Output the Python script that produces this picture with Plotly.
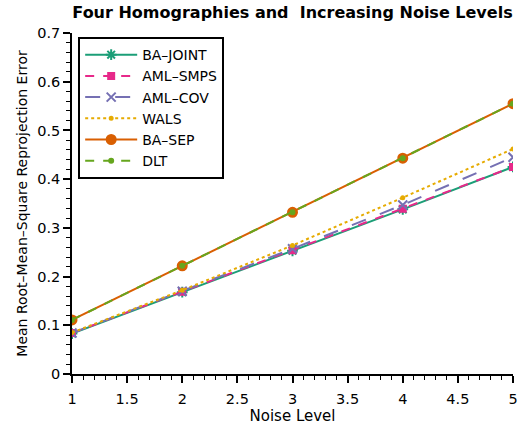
import plotly.graph_objects as go

noise = [1, 2, 3, 4, 5]
ba_joint = [0.083, 0.168, 0.253, 0.338, 0.425]
aml_smps = [0.084, 0.169, 0.254, 0.339, 0.425]
aml_cov = [0.084, 0.170, 0.257, 0.347, 0.445]
wals = [0.085, 0.172, 0.264, 0.362, 0.462]
ba_sep = [0.111, 0.222, 0.332, 0.443, 0.555]
dlt = [0.111, 0.222, 0.332, 0.443, 0.555]

series = [
    ("BA\u2013JOINT", ba_joint, "#1b9e77", "solid", "asterisk-open", 9),
    ("AML\u2013SMPS", aml_smps, "#e7298a", "dash", "square", 6),
    ("AML\u2013COV", aml_cov, "#7570b3", "longdash", "x-thin-open", 9),
    ("WALS", wals, "#e6ab02", "dot", "circle", 3),
    ("BA\u2013SEP", ba_sep, "#d95f02", "solid", "circle", 9),
    ("DLT", dlt, "#66a61e", "dash", "circle", 4),
]

fig = go.Figure()
for name, ys, color, dash, sym, size in series:
    fig.add_trace(go.Scatter(
        x=noise, y=ys, name=name, mode="lines+markers",
        line=dict(color=color, width=2, dash=dash),
        marker=dict(symbol=sym, size=size, color=color, line=dict(color=color, width=2)),
    ))

font = "DejaVu Sans, sans-serif"
fig.update_layout(
    width=528, height=429,
    margin=dict(l=72, r=15, t=33, b=55),
    paper_bgcolor="white", plot_bgcolor="white",
    font=dict(family=font, size=14, color="black"),
    title=dict(text="<b>Four Homographies and  Increasing Noise Levels</b>",
               x=0.5, xref="paper", xanchor="center", y=0.985, yanchor="top",
               font=dict(size=16, family=font)),
    showlegend=True,
    legend=dict(x=0.014, y=0.988, xanchor="left", yanchor="top",
                bordercolor="black", borderwidth=2, bgcolor="white",
                font=dict(size=14), tracegroupgap=0, itemwidth=52),
    xaxis=dict(range=[1, 5], tickvals=[1, 1.5, 2, 2.5, 3, 3.5, 4, 4.5, 5],
               ticktext=["1", "1.5", "2", "2.5", "3", "3.5", "4", "4.5", "5"],
               showline=True, linecolor="black", linewidth=1.5,
               ticks="outside", ticklen=7, tickwidth=1.5, tickcolor="black",
               showgrid=False, zeroline=False, tickfont=dict(size=14.5),
               ticklabelstandoff=4, automargin=False,
               minor=dict(dtick=0.1, ticks="outside", ticklen=4, tickwidth=1, tickcolor="black", showgrid=False),
               title=dict(text="Noise Level", standoff=3, font=dict(size=15))),
    yaxis=dict(range=[0, 0.7], tickvals=[0, 0.1, 0.2, 0.3, 0.4, 0.5, 0.6, 0.7],
               ticktext=["0", "0.1", "0.2", "0.3", "0.4", "0.5", "0.6", "0.7"],
               showline=True, linecolor="black", linewidth=1.5,
               ticks="outside", ticklen=7, tickwidth=1.5, tickcolor="black",
               showgrid=False, zeroline=False, tickfont=dict(size=14.5),
               automargin=False,
               minor=dict(dtick=0.02, ticks="outside", ticklen=4, tickwidth=1, tickcolor="black", showgrid=False),
               title=dict(text="Mean Root\u2013Mean\u2013Square Reprojection Error", standoff=6, font=dict(size=14))),
)

fig.write_html("out.html")
